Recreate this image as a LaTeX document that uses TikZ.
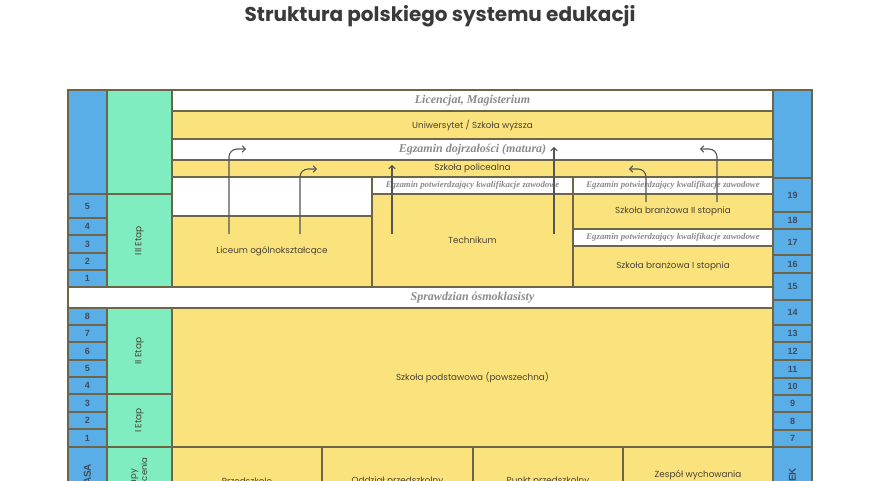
\documentclass[tikz,border=0pt]{standalone}
\usepackage{fontspec}
\setmainfont{Poppins}
\newfontfamily\serifbi{Liberation Serif}
\newfontfamily\numfont{Liberation Sans}
\usetikzlibrary{arrows.meta}
\definecolor{cblue}{HTML}{5AAEE8}
\definecolor{cgreen}{HTML}{80EDC0}
\definecolor{cyellow}{HTML}{FAE27C}
\definecolor{cline}{HTML}{6E6447}
\definecolor{ctext}{HTML}{4A4234}
\definecolor{cnum}{HTML}{3C4D63}
\definecolor{cexam}{HTML}{8A8A8A}
\definecolor{carrow}{HTML}{555555}
\definecolor{ctitle}{HTML}{3A3A3A}
\tikzset{
  cellbox/.style={draw=cline, line width=1.3pt, inner sep=0pt, outer sep=0pt, align=center, font=\fontsize{8.8}{11}\selectfont, text=ctext},
  yel/.style={cellbox, fill=cyellow},
  wht/.style={cellbox, fill=white},
  blu/.style={cellbox, fill=cblue, font=\numfont\bfseries\fontsize{9}{10}\selectfont, text=cnum},
  grn/.style={cellbox, fill=cgreen, font=\fontsize{9}{11}\selectfont},
  exam/.style={font=\serifbi\bfseries\itshape\fontsize{12}{14}\selectfont, text=cexam},
  smallexam/.style={font=\serifbi\bfseries\itshape\fontsize{8.8}{10}\selectfont, text=cexam},
  arr/.style={draw=carrow, line width=1.1pt, rounded corners=8pt, -{Straight Barb[length=3pt,width=6.5pt]}},
}
\newcommand\cell[7]{\node[#2,minimum width={(#5-#3)*1pt},minimum height={(#6-#4)*1pt}] (#1) at ({(#3+#5)/2},{(#4+#6)/2}) {#7};}
\begin{document}
\begin{tikzpicture}[x=1pt,y=-1pt]
\useasboundingbox (0,0) rectangle (880,480);
\clip (0,0) rectangle (880,480);
\fill[white] (0,0) rectangle (880,480);
\node[font=\bfseries\fontsize{20}{24}\selectfont, text=ctitle] (title) at (440,16) {Struktura polskiego systemu edukacji};

% left blue column
\cell{lb0}{blu}{68}{90}{107}{194}{}
\cell{lb5}{blu}{68}{194}{107}{218}{5}
\cell{lb4}{blu}{68}{218}{107}{235}{4}
\cell{lb3}{blu}{68}{235}{107}{253}{3}
\cell{lb2}{blu}{68}{253}{107}{270}{2}
\cell{lb1}{blu}{68}{270}{107}{287}{1}
\cell{pb8}{blu}{68}{308}{107}{325}{8}
\cell{pb7}{blu}{68}{325}{107}{342}{7}
\cell{pb6}{blu}{68}{342}{107}{360}{6}
\cell{pb5}{blu}{68}{360}{107}{377}{5}
\cell{pb4}{blu}{68}{377}{107}{394}{4}
\cell{pb3}{blu}{68}{394}{107}{412}{3}
\cell{pb2}{blu}{68}{412}{107}{429}{2}
\cell{pb1}{blu}{68}{429}{107}{447}{1}
\cell{klasa}{blu}{68}{447}{107}{515}{\rotatebox{90}{\fontsize{10}{11}\selectfont KLASA}}

% green column
\cell{g0}{grn}{107}{90}{172}{194}{}
\cell{g3}{grn}{107}{194}{172}{287}{\rotatebox{90}{III Etap}}
\cell{g2}{grn}{107}{308}{172}{394}{\rotatebox{90}{II Etap}}
\cell{g1}{grn}{107}{394}{172}{447}{\rotatebox{90}{I Etap}}
\cell{gk}{grn}{107}{447}{172}{515}{\rotatebox{90}{\fontsize{8.5}{11}\selectfont\begin{tabular}{@{}c@{}}Etapy\\kształcenia\end{tabular}}}

% main upper
\cell{lic}{wht}{172}{90}{773}{111}{}
\node[exam] (licl) at (lic.center) {Licencjat, Magisterium};
\cell{uni}{yel}{172}{111}{773}{139}{Uniwersytet / Szkoła wyższa}
\cell{mat}{wht}{172}{139}{773}{160}{}
\node[exam] (matl) at (mat.center) {Egzamin dojrzałości (matura)};
\cell{pol}{yel}{172}{160}{773}{177}{Szkoła policealna}
\cell{blank}{wht}{172}{177}{372}{216}{}
\cell{lo}{yel}{172}{216}{372}{287}{Liceum ogólnokształcące}
\cell{ep1}{wht}{372}{177}{573}{194}{}
\node[smallexam] at (ep1.center) {Egzamin potwierdzający kwalifikacje zawodowe};
\cell{tech}{yel}{372}{194}{573}{287}{Technikum}
\cell{ep2}{wht}{573}{177}{773}{194}{}
\node[smallexam] at (ep2.center) {Egzamin potwierdzający kwalifikacje zawodowe};
\cell{br2}{yel}{573}{194}{773}{229}{Szkoła branżowa II stopnia}
\cell{ep3}{wht}{573}{229}{773}{246}{}
\node[smallexam] at (ep3.center) {Egzamin potwierdzający kwalifikacje zawodowe};
\cell{br1}{yel}{573}{246}{773}{287}{Szkoła branżowa I stopnia}
\cell{spr}{wht}{68}{287}{773}{308}{}
\node[exam] (sprl) at (472.5,297.5) {Sprawdzian ósmoklasisty};
\cell{sp}{yel}{172}{308}{773}{447}{Szkoła podstawowa (powszechna)}
\cell{prz}{yel}{172}{447}{322}{515}{Przedszkole}
\cell{odd}{yel}{322}{447}{473}{515}{Oddział przedszkolny}
\cell{pun}{yel}{473}{447}{623}{515}{Punkt przedszkolny}
\cell{zes}{yel}{623}{447}{773}{515}{Zespół wychowania\\przedszkolnego}

% right blue column
\cell{rb0}{blu}{773}{90}{812}{178}{}
\cell{r19}{blu}{773}{178}{812}{212}{19}
\cell{r18}{blu}{773}{212}{812}{229}{18}
\cell{r17}{blu}{773}{229}{812}{255}{17}
\cell{r16}{blu}{773}{255}{812}{273}{16}
\cell{r15}{blu}{773}{273}{812}{300}{15}
\cell{r14}{blu}{773}{300}{812}{325}{14}
\cell{r13}{blu}{773}{325}{812}{342}{13}
\cell{r12}{blu}{773}{342}{812}{360}{12}
\cell{r11}{blu}{773}{360}{812}{378}{11}
\cell{r10}{blu}{773}{378}{812}{395}{10}
\cell{r9}{blu}{773}{395}{812}{412}{9}
\cell{r8}{blu}{773}{412}{812}{430}{8}
\cell{r7}{blu}{773}{430}{812}{447}{7}
\cell{wiek}{blu}{773}{447}{812}{515}{\rotatebox{90}{\fontsize{10}{11}\selectfont WIEK}}

% arrows
\coordinate (a1s) at (229,234); \coordinate (a1e) at (246,149);
\coordinate (a2s) at (300,234); \coordinate (a2e) at (317,169);
\coordinate (a3s) at (392,234); \coordinate (a3e) at (392,165);
\coordinate (a4s) at (554,234); \coordinate (a4e) at (554,147);
\coordinate (a5s) at (646,202); \coordinate (a5e) at (629,169);
\coordinate (a6s) at (717,202); \coordinate (a6e) at (700,149);
\draw[arr] (a1s) |- (a1e);
\draw[arr] (a2s) |- (a2e);
\draw[arr] (a3s) -- (a3e);
\draw[arr] (a4s) -- (a4e);
\draw[arr] (a5s) |- (a5e);
\draw[arr] (a6s) |- (a6e);
\end{tikzpicture}
\end{document}
